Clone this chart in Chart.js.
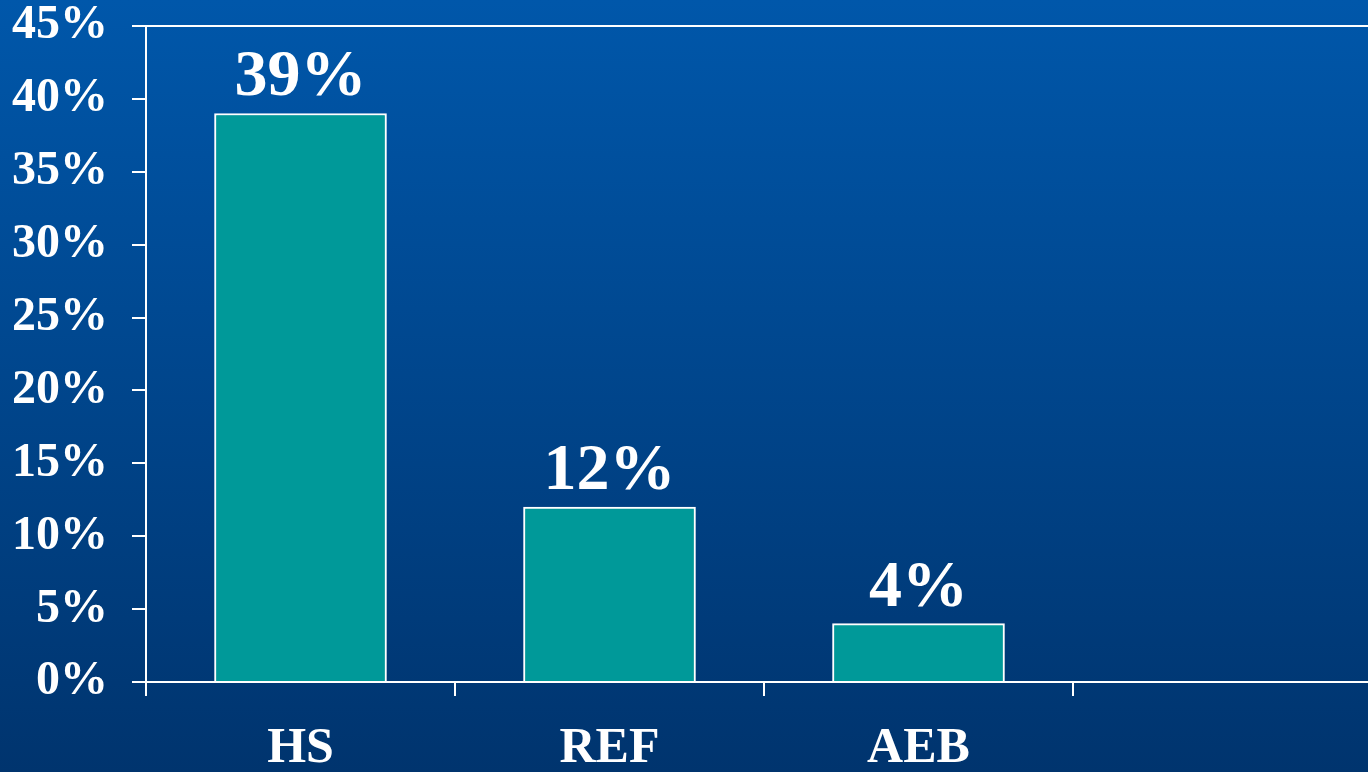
<!DOCTYPE html>
<html>
<head>
<meta charset="utf-8">
<script src="https://cdn.jsdelivr.net/npm/chart.js@4"></script>
<style>
  html, body {
    margin: 0;
    padding: 0;
    overflow: hidden;
    width: 1368px;
    height: 772px;
    background: linear-gradient(to bottom, #0057aa, #00346e);
  }
  canvas { display: block; }
</style>
</head>
<body>
<canvas id="barChart" width="1400" height="772"></canvas>
<script>
const categories = ["HS", "REF", "AEB", ""]; // last slot is left empty
const values = [39, 12, 4, null];
const yTicks = [0, 5, 10, 15, 20, 25, 30, 35, 40, 45];

const serif = '"Liberation Serif", "Times New Roman", serif';

// value labels above each bar
const valueLabels = {
  id: "valueLabels",
  afterDatasetsDraw(chart) {
    const c = chart.ctx;
    const meta = chart.getDatasetMeta(0);
    c.save();
    c.fillStyle = "#ffffff";
    c.font = "bold 66px " + serif;
    c.textAlign = "center";
    c.textBaseline = "alphabetic";
    meta.data.forEach((bar, i) => {
      if (values[i] == null) return;
      c.fillText(values[i] + "%", bar.x, bar.y - 18);
    });
    c.restore();
  },
};

const ctx = document.getElementById("barChart").getContext("2d");
const barChart = new Chart(ctx, {
  type: "bar",
  data: {
    labels: categories,
    datasets: [
      {
        data: values,
        backgroundColor: "#009999",
        borderColor: "#ffffff",
        borderWidth: 2,
        barThickness: 172,
      },
    ],
  },
  options: {
    responsive: false,
    animation: false,
    layout: { padding: { top: 26, right: 18, left: 0, bottom: 0 } },
    scales: {
      y: {
        min: 0,
        max: 45,
        afterBuildTicks: (scale) => {
          scale.ticks = yTicks.map((v) => ({ value: v }));
        },
        afterFit: (scale) => {
          scale.width = 146;
          scale.paddingTop = 0;
          scale.paddingBottom = 0;
        },
        ticks: {
          color: "#ffffff",
          padding: 24,
          font: { family: serif, size: 48, weight: "bold" },
          callback: (v) => v + "%",
        },
        grid: {
          color: (c) => (c.tick && c.tick.value === 45 ? "#ffffff" : "rgba(0,0,0,0)"),
          lineWidth: 2,
          tickColor: "#ffffff",
          tickLength: 14,
        },
        border: { color: "#ffffff", width: 2 },
      },
      x: {
        afterFit: (scale) => {
          scale.height = 90;
          scale.paddingLeft = 0;
          scale.paddingRight = 0;
        },
        ticks: {
          color: "#ffffff",
          padding: 23,
          font: { family: serif, size: 50, weight: "bold" },
        },
        grid: {
          color: "rgba(0,0,0,0)",
          tickColor: "#ffffff",
          tickLength: 14,
          lineWidth: 2,
        },
        border: { color: "#ffffff", width: 2 },
      },
    },
    plugins: {
      legend: { display: false },
      tooltip: { enabled: false },
    },
  },
  plugins: [valueLabels],
});
</script>
</body>
</html>
